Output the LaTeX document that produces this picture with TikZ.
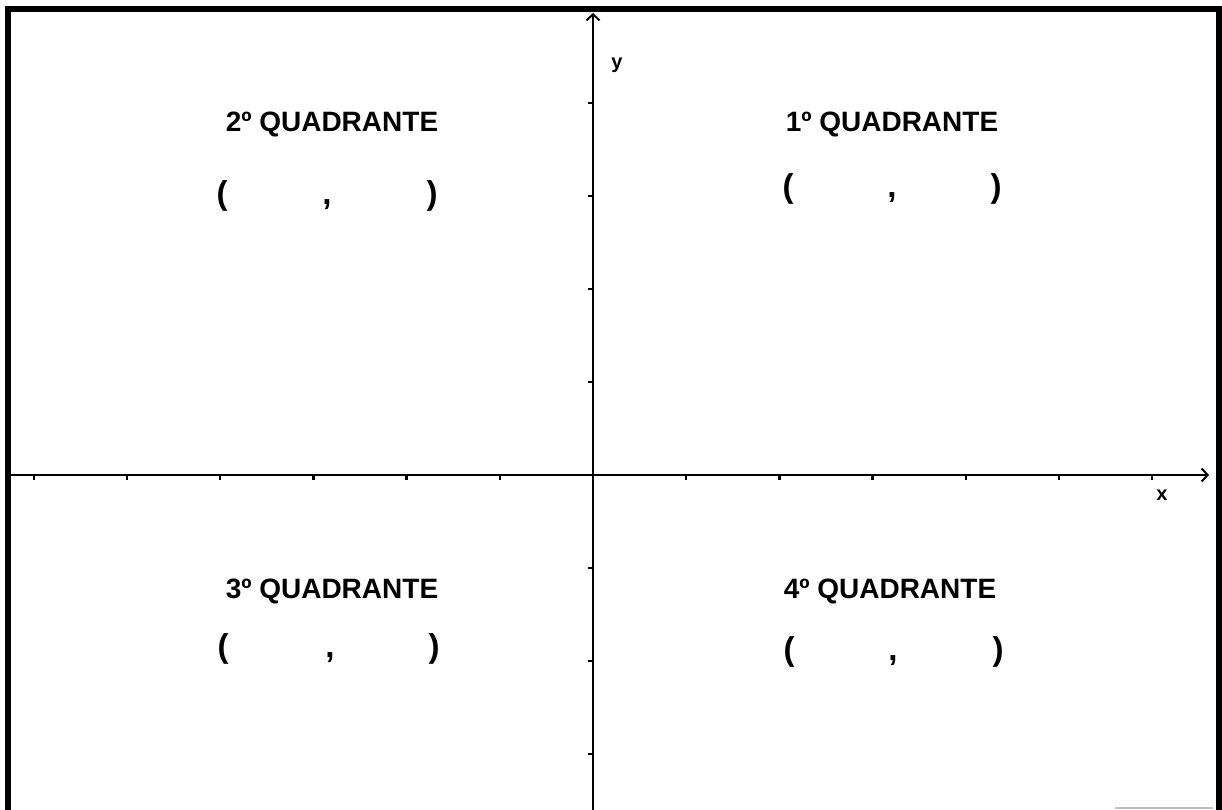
\documentclass[tikz,border=0pt]{standalone}
\usepackage{fontspec}
\setmainfont{Liberation Sans}
\usetikzlibrary{arrows.meta}
\begin{document}
\begin{tikzpicture}[x=1pt,y=-1pt,
  axis/.style={line width=2.4pt,-{Straight Barb[length=6pt,width=13pt,line width=2pt]}},
  frame/.style={line width=6pt},
  tickmark/.style={line width=2.4pt},
  heading/.style={font=\fontsize{28}{32}\selectfont\bfseries,anchor=base,inner sep=0pt},
  paren/.style={font=\fontsize{33}{36}\selectfont\bfseries,anchor=base,inner sep=0pt},
  axlabel/.style={font=\fontsize{20}{22}\selectfont\bfseries,anchor=base,inner sep=0pt}]
\useasboundingbox (0,0) rectangle (1222,810);
\fill[white] (0,0) rectangle (1222,810);
% frame
\draw[frame] (8,810) -- (8,9) -- (1219,9) -- (1219,810);
\draw[line width=2pt,black!25] (1115,808) -- (1213,808);
% axes
\coordinate (xs) at (11,475);
\coordinate (xe) at (1209,475);
\coordinate (ys) at (593,810);
\coordinate (ye) at (593,13);
\draw[axis] (xs) -- (xe);
\draw[axis] (ys) -- (ye);
% ticks
\foreach \k in {-6,-5,-4,-3,-2,-1,1,2,3,4,5,6}
  \draw[tickmark] ({593+\k*93.2},476) -- ++(0,4);
\foreach \k in {-3,-2,-1,1,2,3,4}
  \draw[tickmark] (592,{475-\k*93}) -- ++(-4,0);
% axis labels
\node[axlabel] (ly) at (617,69) {y};
\node[axlabel] (lx) at (1162,500) {x};
% quadrant 2
\node[heading] (q2) at (332,132) {2º QUADRANTE};
\node[paren] (q2l) at (222,205) {(};
\node[paren] (q2c) at (327,205) {,};
\node[paren] (q2r) at (432,205) {)};
% quadrant 1
\node[heading] (q1) at (892,132) {1º QUADRANTE};
\node[paren] (q1l) at (788,198) {(};
\node[paren] (q1c) at (892,198) {,};
\node[paren] (q1r) at (996,198) {)};
% quadrant 3
\node[heading] (q3) at (332,598) {3º QUADRANTE};
\node[paren] (q3l) at (223,657) {(};
\node[paren] (q3c) at (330,657) {,};
\node[paren] (q3r) at (434,657) {)};
% quadrant 4
\node[heading] (q4) at (890,598) {4º QUADRANTE};
\node[paren] (q4l) at (789,660) {(};
\node[paren] (q4c) at (893,660) {,};
\node[paren] (q4r) at (998,660) {)};
\end{tikzpicture}
\end{document}
